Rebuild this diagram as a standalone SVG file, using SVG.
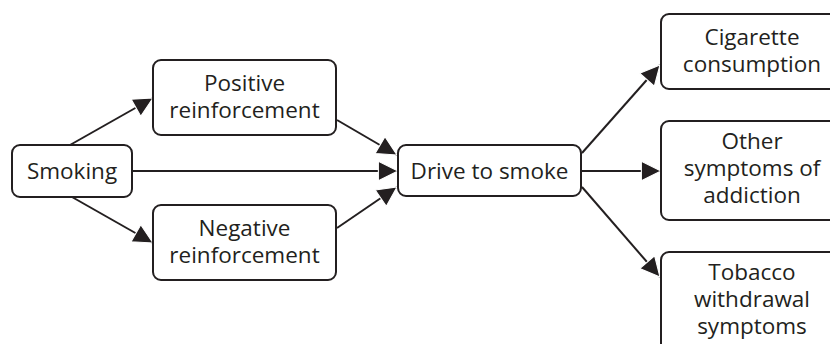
<svg xmlns="http://www.w3.org/2000/svg" width="830" height="344" viewBox="0 0 830 344">
<style>
.box{fill:#fff;stroke:#231f20;stroke-width:2}
.t{font-family:"Open Sans","Noto Sans",sans-serif;font-size:22.5px;fill:#231f20;text-anchor:middle}
.c{stroke:#231f20;stroke-width:2;fill:none;marker-end:url(#ah)}
</style>
<defs>
<marker id="ah" markerUnits="userSpaceOnUse" markerWidth="24" markerHeight="24" viewBox="-2 -11 22 22" refX="18" refY="0" orient="auto">
<path d="M0,-9 L18,0 L0,9 Z" fill="#231f20" stroke="#fff" stroke-width="1"/>
</marker>
</defs>
<rect width="830" height="344" fill="#fff"/>
<g id="connectors">
<line class="c" x1="70" y1="145" x2="153" y2="98"/>
<line class="c" x1="72" y1="197" x2="153" y2="243"/>
<line class="c" x1="132" y1="171" x2="398" y2="171"/>
<line class="c" x1="337" y1="120" x2="397" y2="155"/>
<line class="c" x1="337" y1="228" x2="397" y2="187"/>
<line class="c" x1="582" y1="153" x2="660" y2="65"/>
<line class="c" x1="582" y1="171" x2="661" y2="171"/>
<line class="c" x1="582" y1="187" x2="660" y2="277"/>
</g>
<g id="smoking">
<rect class="box" x="12" y="145" width="120" height="52" rx="8"/>
<text class="t" x="72" y="179">Smoking</text>
</g>
<g id="positive">
<rect class="box" x="153" y="60" width="183" height="75" rx="8"/>
<text class="t" x="244.5" y="91">Positive</text>
<text class="t" x="244.5" y="118">reinforcement</text>
</g>
<g id="negative">
<rect class="box" x="153" y="205" width="183" height="75" rx="8"/>
<text class="t" x="244.5" y="236">Negative</text>
<text class="t" x="244.5" y="263">reinforcement</text>
</g>
<g id="drive">
<rect class="box" x="398" y="145" width="183" height="51" rx="8"/>
<text class="t" x="489.5" y="179">Drive to smoke</text>
</g>
<g id="cigarette">
<rect class="box" x="661" y="14" width="185" height="75" rx="8"/>
<text class="t" x="752" y="45">Cigarette</text>
<text class="t" x="752" y="72">consumption</text>
</g>
<g id="other">
<rect class="box" x="661" y="121" width="185" height="99" rx="8"/>
<text class="t" x="752" y="149">Other</text>
<text class="t" x="752" y="176">symptoms of</text>
<text class="t" x="752" y="203">addiction</text>
</g>
<g id="tobacco">
<rect class="box" x="661" y="252" width="185" height="110" rx="8"/>
<text class="t" x="752" y="280">Tobacco</text>
<text class="t" x="752" y="307">withdrawal</text>
<text class="t" x="752" y="334">symptoms</text>
</g>
</svg>
